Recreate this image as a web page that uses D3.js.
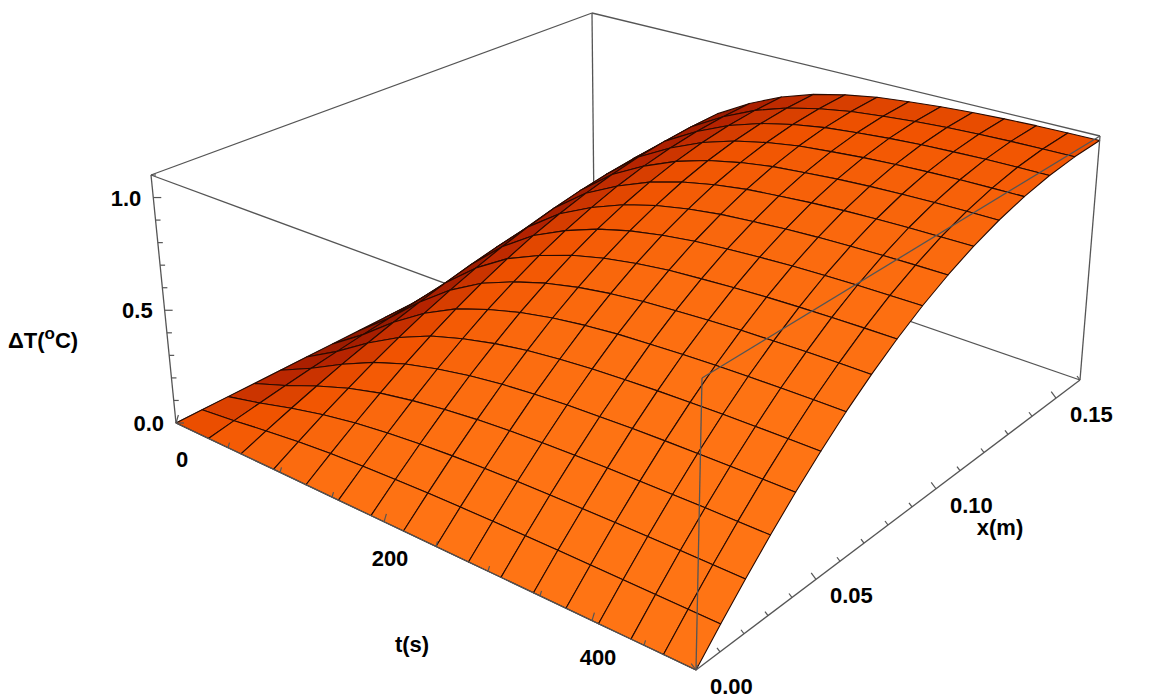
<!DOCTYPE html>
<html><head><meta charset="utf-8">
<script src="https://cdn.jsdelivr.net/npm/d3@7"></script>
<style>body{margin:0;background:#fff}text{font-family:"Liberation Sans",Arial,sans-serif;font-weight:bold}</style>
</head><body><svg id="c" width="1152" height="698"></svg>
<script>
// Data
const tNodes = [0,31.25,62.5,93.75,125,156.25,187.5,218.75,250,281.25,312.5,343.75,375,406.25,437.5,468.75,500];
const tProfile = [0,.18,.38,.55,.68,.77,.84,.89,.925,.95,.965,.978,.987,.993,.997,.999,1];
const xNodes = [0,.01,.02,.03,.04,.05,.06,.07,.08,.09,.10,.11,.12,.13,.14,.15,.16];
const xProfile = [0,.098,.195,.290,.383,.471,.556,.634,.707,.773,.831,.882,.924,.957,.981,.995,1];
const peakDT = 1.08;
const tTicks = [0,200,400], xTicks = [0,0.05,0.10,0.15], zTicks = [0,0.5,1.0];
const tMinor = d3.range(0,501,50), xMinor = d3.range(0,0.1601,0.01), zMinor = d3.range(0,1.101,0.1);

const svg = d3.select("#c");
const tS = d3.scaleLinear().domain([0,500]).range([0,1]);
const xS = d3.scaleLinear().domain([0,0.16]).range([0,1]);
const zS = d3.scaleLinear().domain([0,1.1]).range([0,1]);
// projected box corners [u][v][w]
const C = {"000":[176,423],"001":[151,175],"100":[696,670],"101":[702,378],
           "110":[1080,380],"111":[1100,136],"010":[594,212],"011":[592,13]};
function P(t,x,z){
  const u=tS(t),v=xS(x),w=zS(z);
  let X=0,Y=0;
  for(const a of [0,1])for(const b of [0,1])for(const c of [0,1]){
    const wt=(a?u:1-u)*(b?v:1-v)*(c?w:1-w);
    const p=C[""+a+b+c]; X+=wt*p[0]; Y+=wt*p[1];
  }
  return [X,Y];
}
const line=(pts)=>"M"+pts.map(p=>p.join(",")).join("L");
const edge=(a,b)=>svg.append("path").attr("d",line([a,b])).attr("stroke","#555").attr("stroke-width",1.3).attr("fill","none");

// hidden/back box edges
edge(P(0,0,0),P(0,0,1.1)); edge(P(0,0.16,0),P(0,0.16,1.1));
edge(P(0,0,1.1),P(0,0.16,1.1)); edge(P(0,0.16,1.1),P(500,0.16,1.1));
edge(P(0,0,1.1),P(500,0,1.1));
edge(P(0,0,0),P(0,0.16,0)); edge(P(0,0.16,0),P(500,0.16,0));

// surface
const zAt=(i,j)=>peakDT*tProfile[i]*xProfile[j];
const quads=[];
for(let i=0;i<16;i++)for(let j=0;j<16;j++){
  const c=[[i,j],[i+1,j],[i+1,j+1],[i,j+1]];
  const dzt=(zS(zAt(i+1,j))+zS(zAt(i+1,j+1))-zS(zAt(i,j))-zS(zAt(i,j+1)))/2/(1/16);
  const dzx=(zS(zAt(i,j+1))+zS(zAt(i+1,j+1))-zS(zAt(i,j))-zS(zAt(i+1,j)))/2/(1/16);
  let n=[-dzt*0.55,-dzx*0.55,1]; const nl=Math.hypot(...n); n=n.map(d=>d/nl);
  const L=[0.35,-0.75,0.55]; const ll=Math.hypot(...L);
  const sh=(n[0]*L[0]+n[1]*L[1]+n[2]*L[2])/ll;
  const depth=(1-(i+0.5)/16)+((j+0.5)/16);
  quads.push({c,sh,depth});
}
quads.sort((a,b)=>b.depth-a.depth);
const col=d3.scaleLinear().domain([-0.1,0.35,0.6,0.9]).range(["#4a0500","#b42200","#f05200","#ff7414"]).clamp(true);
svg.append("g").selectAll("path").data(quads).join("path")
  .attr("d",d=>line(d.c.map(([i,j])=>P(tNodes[i],xNodes[j],zAt(i,j))))+"Z")
  .attr("fill",d=>col(d.sh)).attr("stroke","#2a0a00").attr("stroke-width",1.1).attr("stroke-linejoin","round");

// front box edges
edge(P(500,0,0),P(500,0,1.1)); edge(P(500,0.16,0),P(500,0.16,1.1));
edge(P(500,0,1.1),P(500,0.16,1.1));
edge(P(0,0,0),P(500,0,0)); edge(P(500,0,0),P(500,0.16,0));

// ticks
const tick=(a,dx,dy,len)=>svg.append("line").attr("x1",a[0]).attr("y1",a[1]).attr("x2",a[0]+dx*len).attr("y2",a[1]+dy*len).attr("stroke","#555").attr("stroke-width",1.2);
zMinor.forEach(z=>tick(P(0,0,z),1,0,zTicks.some(v=>Math.abs(v-z)<1e-6)?8:5));
tMinor.forEach(t=>tick(P(t,0,0),0.3,-1,tTicks.includes(t)?8:5));
xMinor.forEach(x=>tick(P(500,x,0),-0.6,-0.8,xTicks.some(v=>Math.abs(v-x)<1e-6)?8:5));
const lab=(p,s,anchor)=>svg.append("text").attr("x",p[0]).attr("y",p[1]).attr("font-size",22).attr("text-anchor",anchor).text(s);
zTicks.forEach(z=>{const p=P(0,0,z);lab([p[0]-12,p[1]+8],d3.format(".1f")(z),"end");});
tTicks.forEach(t=>{const p=P(t,0,0);lab([p[0]+6,p[1]+44],d3.format("d")(t),"middle");});
xTicks.forEach(x=>{const p=P(500,x,0);lab([p[0]+14,p[1]+24],d3.format(".2f")(x),"start");});
const zl=svg.append("text").attr("x",8).attr("y",348).attr("font-size",22);
zl.append("tspan").text("ΔT(");zl.append("tspan").attr("dy",-9).attr("font-size",17).text("o");
zl.append("tspan").attr("dy",9).text("C)");
lab([412,652],"t(s)","middle");
lab([1000,535],"x(m)","middle");
</script></body></html>
